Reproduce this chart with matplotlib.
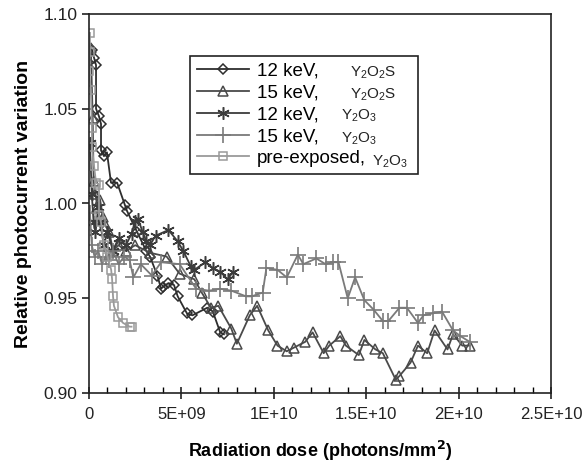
import matplotlib
matplotlib.use("Agg")
import matplotlib.pyplot as plt
import numpy as np

plt.rcParams['font.family'] = ['Liberation Sans', 'DejaVu Sans']

# ---- data (x in units of 1E9 photons/mm^2) ----
a_x = [0.16, 0.27, 0.38, 0.38, 0.54, 0.65, 0.65, 0.81, 0.97, 1.19, 1.52, 1.95, 2.06, 2.6, 3.1, 3.3,
       3.7, 3.9, 4.0, 4.3, 4.6, 4.8, 5.3, 5.6, 6.4, 6.7, 7.1, 7.3]
a_y = [1.081, 1.077, 1.073, 1.050, 1.046, 1.042, 1.028, 1.025, 1.027, 1.011, 1.011, 0.999, 0.996,
       0.985, 0.975, 0.972, 0.962, 0.955, 0.956, 0.958, 0.957, 0.951, 0.942, 0.941, 0.945, 0.943,
       0.932, 0.931]

b_x = [0.10, 0.20, 0.25, 0.35, 0.45, 0.60, 0.75, 0.90, 1.1, 1.3, 1.6, 2.0, 2.5, 3.3, 4.2, 4.9, 5.7,
       6.1, 6.6, 7.0, 7.7, 8.0, 8.7, 9.1, 9.7, 10.2, 10.7, 11.1, 11.7, 12.1, 12.7, 13.0, 13.6, 13.9,
       14.6, 14.9, 15.5, 15.9, 16.6, 16.8, 17.4, 17.8, 18.3, 18.7, 19.4, 19.7, 20.2, 20.6]
b_y = [1.082, 1.045, 1.012, 1.005, 0.998, 1.002, 0.993, 0.988, 0.985, 0.975, 0.978, 0.975, 0.978,
       0.974, 0.972, 0.963, 0.960, 0.953, 0.945, 0.946, 0.934, 0.926, 0.941, 0.946, 0.933, 0.925,
       0.922, 0.924, 0.927, 0.932, 0.921, 0.925, 0.930, 0.925, 0.920, 0.928, 0.923, 0.921, 0.907,
       0.909, 0.916, 0.925, 0.921, 0.933, 0.923, 0.931, 0.925, 0.925]

c_x = [0.05, 0.15, 0.25, 0.35, 0.5, 0.6, 0.8, 1.0, 1.3, 1.6, 2.0, 2.3, 2.5, 2.65, 2.9, 3.1, 3.3, 3.6,
       4.3, 4.8, 5.1, 5.5, 5.7, 6.3, 6.7, 7.1, 7.5, 7.8]
c_y = [1.032, 1.005, 0.990, 0.985, 0.998, 0.990, 0.978, 0.985, 0.975, 0.982, 0.978, 0.984, 0.991,
       0.992, 0.985, 0.980, 0.978, 0.983, 0.986, 0.980, 0.975, 0.967, 0.965, 0.969, 0.966, 0.964,
       0.960, 0.964]

d_x = [0.05, 0.15, 0.3, 0.5, 0.7, 0.9, 1.1, 1.3, 1.6, 1.9, 2.2, 2.4, 2.8, 3.4, 3.9, 4.9, 5.8, 6.5,
       7.1, 7.7, 8.5, 8.8, 9.4, 9.6, 10.2, 10.7, 11.3, 11.6, 12.3, 12.8, 13.2, 13.5, 14.0, 14.4, 14.9,
       15.4, 15.9, 16.2, 16.8, 17.2, 17.8, 18.1, 18.6, 19.1, 19.7, 20.1, 20.6]
d_y = [0.995, 0.978, 0.972, 0.975, 0.968, 0.972, 0.970, 0.975, 0.968, 0.972, 0.970, 0.961, 0.968,
       0.962, 0.969, 0.968, 0.955, 0.954, 0.955, 0.954, 0.951, 0.951, 0.953, 0.966, 0.965, 0.961,
       0.973, 0.968, 0.971, 0.968, 0.969, 0.969, 0.950, 0.961, 0.949, 0.944, 0.938, 0.938, 0.945,
       0.945, 0.937, 0.941, 0.942, 0.943, 0.933, 0.930, 0.927]

e_x = [0.05, 0.05, 0.0, 0.1, 0.16, 0.16, 0.27, 0.38, 0.54, 0.54, 0.65, 0.8, 1.0, 1.2, 1.25, 1.3,
       1.35, 1.57, 1.84, 2.2, 2.3]
e_y = [1.090, 1.080, 1.070, 1.060, 1.040, 1.030, 1.020, 1.011, 1.010, 0.994, 0.990, 0.978, 0.972,
       0.965, 0.960, 0.951, 0.946, 0.940, 0.937, 0.935, 0.935]

labels = ["12 keV,", "15 keV,", "12 keV,", "15 keV,", "pre-exposed,"]
compounds = [r"$\mathregular{Y_2O_2S}$", r"$\mathregular{Y_2O_2S}$", r"$\mathregular{Y_2O_3}$",
             r"$\mathregular{Y_2O_3}$", r"$\mathregular{Y_2O_3}$"]
xticks = [0, 5e9, 1e10, 1.5e10, 2e10, 2.5e10]
xticklabels = ["0", "5E+09", "1E+10", "1.5E+10", "2E+10", "2.5E+10"]
yticks = [0.90, 0.95, 1.00, 1.05, 1.10]

fig = plt.figure(figsize=(5.84, 4.70), dpi=100)
ax = fig.add_axes([89/584, 1-393/470, 462/584, 379/470])

styles = [
    dict(color="#2e2e2e", marker="D", ms=5.5, mfc="none", mew=1.1),
    dict(color="#4a4a4a", marker="^", ms=7, mfc="none", mew=1.1),
    dict(color="#3c3c3c", marker=(6, 2, 0), ms=9, mfc="none", mew=1.1),
    dict(color="#7a7a7a", marker="+", ms=11, mew=1.2),
    dict(color="#9a9a9a", marker="s", ms=5.5, mfc="none", mew=1.1),
]
series = [(a_x, a_y), (b_x, b_y), (c_x, c_y), (d_x, d_y), (e_x, e_y)]
handles = []
for (xs, ys), st, lab in zip(series, styles, labels):
    h, = ax.plot(np.array(xs) * 1e9, ys, lw=1.3, label=lab, **st)
    handles.append(h)

ax.set_xlim(0, 2.5e10)
ax.set_ylim(0.90, 1.10)
ax.set_xticks(xticks)
ax.set_xticklabels(xticklabels)
ax.set_xticks(np.arange(0, 2.5e10 + 1, 1e9), minor=True)
ax.set_yticks(yticks)
ax.set_yticklabels([f"{v:.2f}" for v in yticks])
ax.tick_params(axis="x", which="major", direction="inout", length=8, width=1.2, labelsize=12, pad=6, colors="#222222")
ax.tick_params(axis="x", which="minor", direction="in", length=4, width=1.0)
ax.tick_params(axis="y", which="major", direction="out", length=5, width=1.2, labelsize=12.5, colors="#222222")
for s in ax.spines.values():
    s.set_linewidth(1.2)
    s.set_color("#222222")

ax.set_xlabel(r"Radiation dose (photons/mm$\mathbf{^2}$)", fontsize=13, fontweight="bold", labelpad=12)
ax.set_ylabel("Relative photocurrent variation", fontsize=14, fontweight="bold", labelpad=8)

leg = ax.legend(handles=handles, labels=labels, loc="upper left",
                bbox_to_anchor=((190-89)/462, (393-56)/379, (418-190)/462, 0.0), mode="expand",
                borderaxespad=0, fontsize=13.5, frameon=True, fancybox=False, framealpha=1,
                edgecolor="#222222", handlelength=2.8, handletextpad=0.4, labelspacing=0.25,
                borderpad=0.35)
leg.get_frame().set_linewidth(1.2)

# compound names next to legend labels (smaller font)
comp_pos = [(350, 73), (350, 95), (341, 116), (341, 139), (372, 162)]
for (px, py), txt in zip(comp_pos, compounds):
    fig.text(px/584, 1-py/470, txt, fontsize=11, va="center", ha="left", color="#222222")

fig.savefig("out.png", dpi=100)
